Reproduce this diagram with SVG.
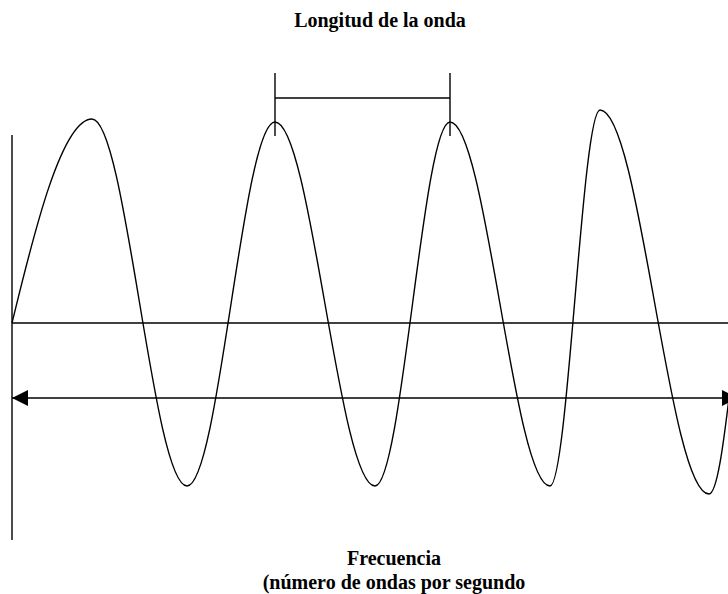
<svg xmlns="http://www.w3.org/2000/svg" width="728" height="594" viewBox="0 0 728 594">
<style>
.ln{fill:none;stroke:#000;stroke-width:1.4}
.t{font-family:"Liberation Serif","Times New Roman",serif;font-weight:bold;font-size:20px;fill:#000;text-anchor:middle}
</style>
<defs>
<marker id="ah" viewBox="0 0 16 16" refX="16" refY="8" markerWidth="16" markerHeight="16" markerUnits="userSpaceOnUse" orient="auto-start-reverse">
<path d="M0,0 L16,8 L0,16 Z" fill="#000"/>
</marker>
</defs>
<rect width="728" height="594" fill="#fff"/>
<g id="title"><text class="t" x="380" y="27">Longitud de la onda</text></g>
<g id="axes">
<line class="ln" x1="12" y1="135" x2="12" y2="540"/>
<line class="ln" x1="12" y1="323" x2="728" y2="323"/>
</g>
<g id="wave">
<path class="ln" d="M12,323 C30,250 60,119 92,119 C126,119 153,486 187,486 C219,486 243,122 275,122 C311,122 339,486 375,486 C402,486 423,122 450,122 C486,122 514,486 550,486 C568,486 582,110 600,110 C640,110 669,494 709,494 C718,494 725,430 730,390"/>
</g>
<g id="connectors">
<line class="ln" x1="275" y1="73" x2="275" y2="136"/>
<line class="ln" x1="450" y1="73" x2="450" y2="136"/>
<line class="ln" x1="275" y1="98" x2="450" y2="98"/>
<line class="ln" x1="12" y1="398" x2="738" y2="398" marker-start="url(#ah)" marker-end="url(#ah)"/>
</g>
<g id="freq">
<text class="t" x="394" y="565">Frecuencia</text>
<text class="t" x="394" y="589">(número de ondas por segundo</text>
</g>
</svg>
